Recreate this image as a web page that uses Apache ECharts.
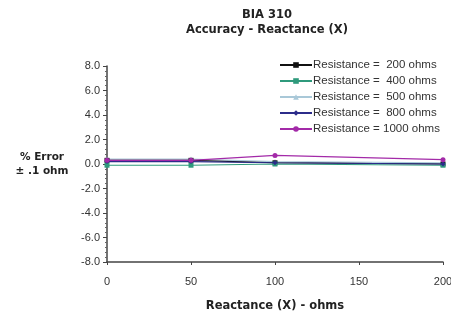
<!DOCTYPE html>
<html>
<head>
<meta charset="utf-8">
<script src="https://cdn.jsdelivr.net/npm/echarts@6/dist/echarts.min.js"></script>
<style>
  html, body { margin: 0; padding: 0; background: #fff; overflow: hidden; }
  #chart { width: 451px; height: 313px; }
</style>
</head>
<body>
<div id="chart"></div>
<script>
// reactance values (ohms) where readings were taken
const reactance = [0, 50, 100, 200];

// % error per resistance setting
const r200 = [0.3, 0.3, 0.1, 0.0];
const r400 = [-0.1, -0.1, 0.0, -0.1];
const r500 = [0.4, 0.4, 0.2, 0.1];
const r800 = [0.2, 0.2, 0.1, 0.0];
const r1000 = [0.3, 0.3, 0.7, 0.35];

const seriesNames = [
    'Resistance =  200 ohms',
    'Resistance =  400 ohms',
    'Resistance =  500 ohms',
    'Resistance =  800 ohms',
    'Resistance = 1000 ohms'
];
const seriesValues = [r200, r400, r500, r800, r1000];
const colors = ['#111111', '#2f9a7c', '#a9c8d8', '#2c2c8a', '#a32aa8'];
const symbols = ['rect', 'rect', 'triangle', 'diamond', 'circle'];

const el = document.getElementById('chart');
const chart = echarts.init(el, null, {renderer: 'canvas'});

const bold = {fontFamily: 'DejaVu Sans', fontWeight: 'bold', color: '#222'};

let series = seriesValues.map((vals, i) => ({
    name: seriesNames[i],
    type: 'line',
    data: vals.map((v, j) => [reactance[j], v]),
    symbol: symbols[i],
    symbolSize: 5,
    lineStyle: {width: 1.2, color: colors[i]},
    itemStyle: {color: colors[i]},
    z: 2 + i
}));
// draw 500 underneath everything
series[2].z = 1;

chart.setOption({
    animation: false,
    title: {
        text: 'BIA 310\nAccuracy - Reactance (X)',
        left: 262,
        top: 3,
        textAlign: 'center',
        textStyle: Object.assign({}, bold, {fontSize: 11.5, lineHeight: 15})
    },
    legend: {
        orient: 'vertical',
        left: 279,
        top: 59,
        itemWidth: 32,
        itemHeight: 7,
        itemGap: 4,
        padding: 0,
        textStyle: {fontFamily: 'Liberation Sans', fontSize: 11.5, color: '#333', padding: [0, 0, 0, -4]},
        data: seriesNames
    },
    grid: {left: 107, right: 8, top: 66, bottom: 51, containLabel: false, outerBoundsMode: 'none'},
    xAxis: {
        type: 'value',
        min: 0, max: 200, interval: 50,
        name: 'Reactance (X) - ohms',
        nameLocation: 'middle',
        nameGap: 38,
        nameTextStyle: Object.assign({}, bold, {fontSize: 11.5}),
        axisLine: {show: true, onZero: false, lineStyle: {color: '#444', width: 1.5}},
        axisTick: {show: true, inside: false, length: 3, lineStyle: {color: '#444'}},
        axisLabel: {fontFamily: 'Liberation Sans', fontSize: 11, color: '#333', margin: 14},
        splitLine: {show: false}
    },
    yAxis: {
        type: 'value',
        min: -8, max: 8, interval: 2,
        name: '% Error\n± .1 ohm',
        nameLocation: 'middle',
        nameRotate: 0,
        nameGap: 65,
        nameTextStyle: Object.assign({}, bold, {fontSize: 10.5, align: 'center', lineHeight: 14}),
        axisLine: {show: true, onZero: false, lineStyle: {color: '#444', width: 1.5}},
        axisTick: {show: true, length: 4, lineStyle: {color: '#444'}},
        minorTick: {show: true, splitNumber: 5, length: 2, lineStyle: {color: '#666'}},
        axisLabel: {
            fontFamily: 'Liberation Sans', fontSize: 11, color: '#333', margin: 7,
            formatter: v => v.toFixed(1)
        },
        splitLine: {show: false}
    },
    series: series
});
</script>
</body>
</html>
